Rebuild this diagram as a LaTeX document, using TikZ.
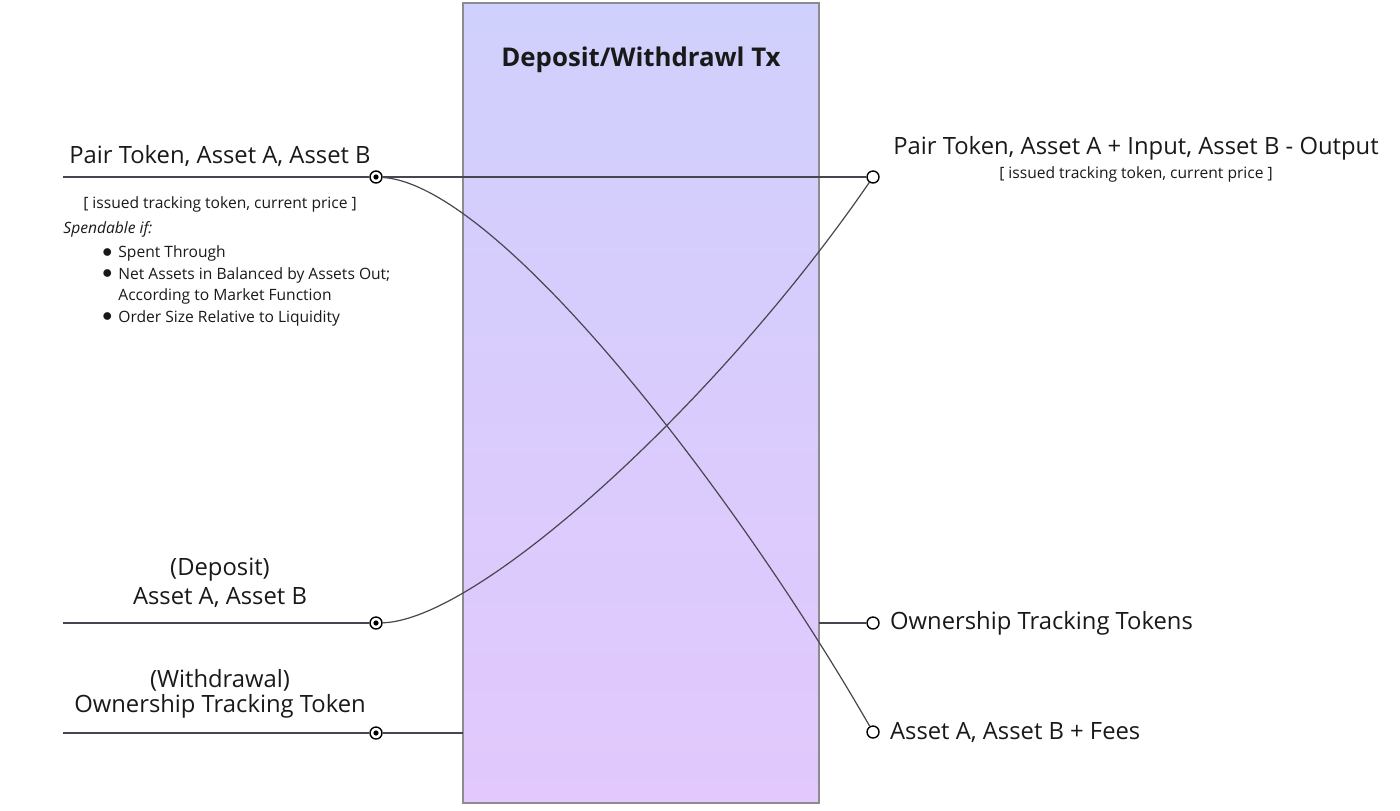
\documentclass[tikz,border=0pt]{standalone}
\usepackage{fontspec}
\setmainfont{Open Sans}
\usepackage{xcolor}
\usetikzlibrary{calc,positioning}

\definecolor{boxtop}{RGB}{208,208,252}
\definecolor{boxbot}{RGB}{226,200,252}
\definecolor{wire}{RGB}{70,70,80}
\newcommand{\condbullet}{\raisebox{0.2pt}{\fontsize{10}{10}\selectfont$\bullet$}}

\tikzset{
  wireline/.style={draw=wire, line width=0.6pt},
  inport/.style={circle, draw=black, line width=0.7pt, fill=white, minimum size=6pt, inner sep=0pt,
    path picture={\fill[black] (path picture bounding box.center) circle (1.3pt);}},
  outport/.style={circle, draw=black, line width=0.7pt, fill=white, minimum size=6pt, inner sep=0pt},
  biglabel/.style={font=\fontsize{11.9}{14}\selectfont, text=black!90, inner sep=0pt},
  smalllabel/.style={font=\fontsize{7.8}{10.8}\selectfont, text=black!90, inner sep=0pt},
}

\begin{document}
\begin{tikzpicture}[x=0.5pt,y=-0.5pt]
\useasboundingbox (0,0) rectangle (1400,810);

%Shape: Rectangle [tx box]
\shade [top color=boxtop, bottom color=boxbot] (463,3) rectangle (819,803);
\draw [draw=black!45, line width=0.8pt] (463,3) rectangle (819,803);
\node [font=\fontsize{12.9}{15}\selectfont\bfseries, text=black!90] (title) at (641,60) {Deposit/Withdrawl Tx};

%Ports
\coordinate (l1) at (63,177);
\coordinate (l2) at (63,623);
\coordinate (l3) at (63,733);
\coordinate (boxl3) at (463,733);
\coordinate (boxr2) at (819,623);
\node [inport] (pin1) at (376,177) {};
\node [inport] (pin2) at (376,623) {};
\node [inport] (pin3) at (376,733) {};
\node [outport] (pout1) at (873,177) {};
\node [outport] (pout2) at (873,623) {};
\node [outport] (pout3) at (873,732) {};

%Straight Lines
\draw [wireline] (l1) -- (pin1) -- (pout1);
\draw [wireline] (l2) -- (pin2);
\draw [wireline] (l3) -- (pin3) -- (boxl3);
\draw [wireline] (boxr2) -- (pout2);

%Curve Lines
\draw [wireline] (pin1) .. controls (500,185) and (740,500) .. (pout3);
\draw [wireline] (pin2) .. controls (480,620) and (720,400) .. (pout1);

% Text Node
\node [biglabel] (pairin) at (220,156) {Pair Token, Asset A, Asset B};
\node [smalllabel] (statein) at (220,204) {[ issued tracking token, current price ]};
\node [smalllabel, anchor=west, font=\fontsize{7.8}{9}\selectfont\itshape] (spend) at (63,229) {Spendable if:};
\node [smalllabel, anchor=north west, align=left] (conds) at (102,242) {%
  \begin{tabular}{@{}l@{\hspace{3pt}}l@{}}
  \condbullet & Spent Through\\
  \condbullet & Net Assets in Balanced by Assets Out;\\
   & According to Market Function\\
  \condbullet & Order Size Relative to Liquidity
  \end{tabular}};
\node [biglabel] (deptag) at (220,570) {(Deposit)};
\node [biglabel] (depin) at (220,597) {Asset A, Asset B};
\node [biglabel] (wdtag) at (220,680) {(Withdrawal)};
\node [biglabel] (wdin) at (220,706) {Ownership Tracking Token};
\node [biglabel] (pairout) at (1136,148) {Pair Token, Asset A + Input, Asset B - Output};
\node [smalllabel] (stateout) at (1136,174) {[ issued tracking token, current price ]};
\node [biglabel, anchor=west, right=5pt of pout2] (ownout) {Ownership Tracking Tokens};
\node [biglabel, anchor=west, right=5pt of pout3] (assetout) {Asset A, Asset B + Fees};

\end{tikzpicture}
\end{document}
